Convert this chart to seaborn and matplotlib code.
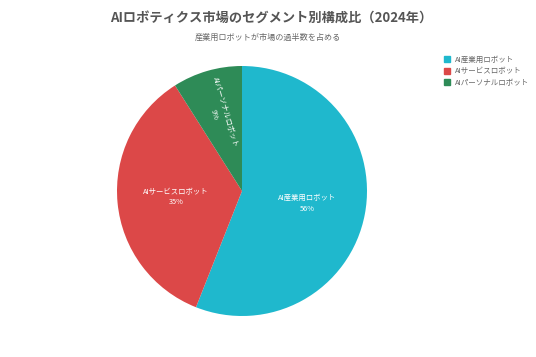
import numpy as np
import matplotlib
matplotlib.use("Agg")
import matplotlib.pyplot as plt
import seaborn as sns

categories = ["AI産業用ロボット", "AIサービスロボット", "AIパーソナルロボット"]
values = [56, 35, 9]
colors = ["#1fb8cd", "#dc4848", "#2e8b57"]
title = "AIロボティクス市場のセグメント別構成比（2024年）"
subtitle = "産業用ロボットが市場の過半数を占める"

sns.set_theme(style="white")
plt.rcParams["font.family"] = ["Noto Sans CJK JP", "DejaVu Sans"]

fig = plt.figure(figsize=(5.36, 3.57), dpi=100)
W, H = 536, 357
cx, cy, R = 242, 191, 125
ax = fig.add_axes([(cx - R) / W, (H - cy - R) / H, 2 * R / W, 2 * R / H])

wedges, _ = ax.pie(values, colors=colors, startangle=90, counterclock=False,
                   radius=1.0, wedgeprops=dict(linewidth=0))
ax.set_xlim(-1, 1)
ax.set_ylim(-1, 1)
ax.set_aspect("auto")

total = sum(values)
for w, cat, v in zip(wedges, categories, values):
    mid = np.deg2rad((w.theta1 + w.theta2) / 2)
    small = v / total < 0.15
    r = 0.645 if small else 0.53
    rot = np.rad2deg(mid) - 180 if small else 0
    ax.text(r * np.cos(mid), r * np.sin(mid), f"{cat}\n{v}%", ha="center", va="center",
            color="white", fontsize=5.3, rotation=rot, rotation_mode="default",
            linespacing=1.4)

fig.text(0.505, 1 - 18 / H, title, ha="center", va="center", fontsize=9.5,
         fontweight="bold", color="#555555")
fig.text(0.5, 1 - 37 / H, subtitle, ha="center", va="center", fontsize=5.85,
         color="#666666")

handles = [plt.Line2D([], [], marker="s", linestyle="", markersize=4.8,
                      markerfacecolor=c, markeredgecolor=c) for c in colors]
fig.legend(handles, categories, loc="upper left", bbox_to_anchor=(443 / W, 1 - 56 / H),
           frameon=False, fontsize=5.4, handletextpad=0.6, labelspacing=0.45,
           borderaxespad=0, borderpad=0, labelcolor="#666666", handlelength=1.0)

fig.savefig("out.png", dpi=100)
